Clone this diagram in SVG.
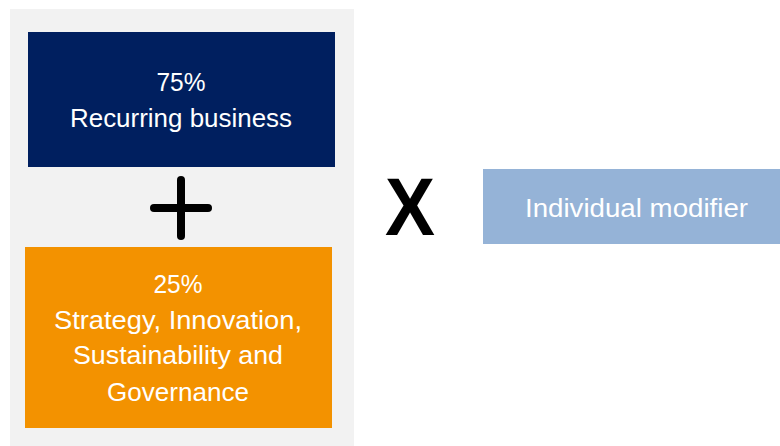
<svg xmlns="http://www.w3.org/2000/svg" width="780" height="446" viewBox="0 0 780 446">
<style>
.t{font-family:"Liberation Sans",Arial,sans-serif;font-size:26px;fill:#ffffff;text-anchor:middle}
.op{stroke:#000000;stroke-width:8;stroke-linecap:round;fill:none}
</style>
<rect x="0" y="0" width="780" height="446" fill="#ffffff"/>
<rect id="panel" x="10" y="9" width="344" height="437" fill="#f2f2f2"/>
<g id="recurring">
<rect x="28" y="32" width="307" height="135" fill="#001f5f"/>
<text class="t" x="181" y="91" textLength="49" lengthAdjust="spacingAndGlyphs">75%</text>
<text class="t" x="181" y="127" textLength="222" lengthAdjust="spacingAndGlyphs">Recurring business</text>
</g>
<g id="plus">
<line class="op" x1="181" y1="180" x2="181" y2="236"/>
<line class="op" x1="154" y1="208" x2="208" y2="208"/>
</g>
<g id="strategy">
<rect x="25" y="247" width="307" height="181" fill="#f39200"/>
<text class="t" x="178" y="293" textLength="49" lengthAdjust="spacingAndGlyphs">25%</text>
<text class="t" x="178" y="329" textLength="248" lengthAdjust="spacingAndGlyphs">Strategy, Innovation,</text>
<text class="t" x="178" y="364" textLength="210" lengthAdjust="spacingAndGlyphs">Sustainability and</text>
<text class="t" x="178" y="401" textLength="142" lengthAdjust="spacingAndGlyphs">Governance</text>
</g>
<g id="times">
<text x="410" y="235" font-family="Liberation Sans,Arial,sans-serif" font-weight="bold" font-size="82" text-anchor="middle" fill="#000000" textLength="50" lengthAdjust="spacingAndGlyphs">X</text>
</g>
<g id="modifier">
<rect x="483" y="169" width="297" height="75" fill="#95b3d7"/>
<text class="t" x="636.5" y="217" textLength="223" lengthAdjust="spacingAndGlyphs">Individual modifier</text>
</g>
<g id="connectors"></g>
</svg>
